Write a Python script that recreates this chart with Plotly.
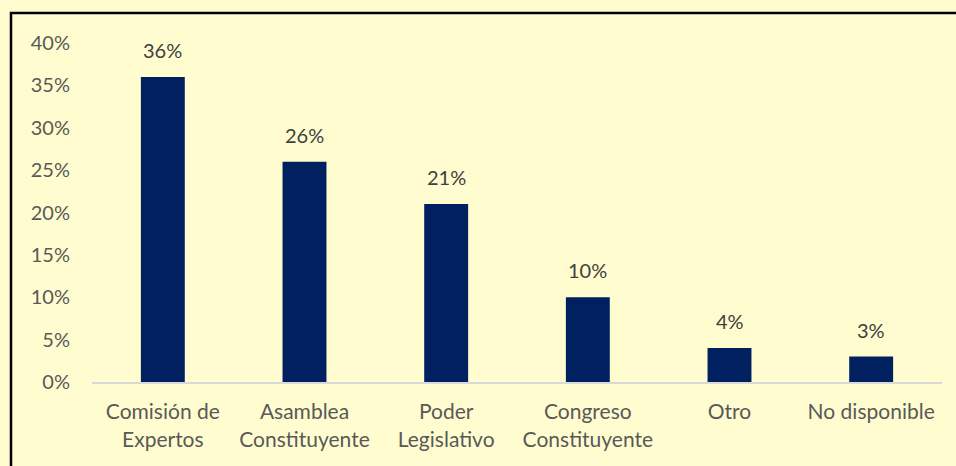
import plotly.graph_objects as go

categories = ["Comisión de<br>Expertos", "Asamblea<br>Constituyente", "Poder<br>Legislativo",
              "Congreso<br>Constituyente", "Otro", "No disponible"]
values = [0.36, 0.26, 0.21, 0.10, 0.04, 0.03]
value_labels = ["36%", "26%", "21%", "10%", "4%", "3%"]
y_ticks = [0, 0.05, 0.10, 0.15, 0.20, 0.25, 0.30, 0.35, 0.40]
y_tick_labels = ["0%", "5%", "10%", "15%", "20%", "25%", "30%", "35%", "40%"]

BG = "#FFFDCF"
FONT = "Lato, Open Sans, sans-serif"

fig = go.Figure(go.Bar(
    x=categories, y=values, width=0.31,
    marker=dict(color="#002060", line=dict(width=0)),
))

for c, v, t in zip(categories, values, value_labels):
    fig.add_annotation(x=c, y=v, text=t, showarrow=False, yanchor="bottom",
                       yshift=13, font=dict(size=20, color="#404040", family=FONT))

fig.update_layout(
    width=956, height=466,
    paper_bgcolor=BG, plot_bgcolor=BG,
    margin=dict(l=92, r=14, t=43, b=84),
    showlegend=False,
    font=dict(family=FONT, size=21, color="#595959"),
    xaxis=dict(showline=True, linecolor="#D9D9D9", linewidth=2, ticks="",
               ticklabelstandoff=10,
               tickfont=dict(size=21, color="#595959")),
    yaxis=dict(range=[0, 0.4], tickvals=y_ticks, ticktext=y_tick_labels,
               showgrid=False, zeroline=False, showline=False, ticks="",
               ticklabelstandoff=21,
               tickfont=dict(size=20, color="#595959")),
    shapes=[dict(type="rect", xref="paper", yref="paper",
                 x0=-0.0953, x1=1.03, y0=-0.3, y1=1.0885,
                 line=dict(color="black", width=2.5), fillcolor="rgba(0,0,0,0)", layer="above")],
)

fig.write_html("out.html", config={"displayModeBar": False},
               post_script="document.body.style.margin='0';")
